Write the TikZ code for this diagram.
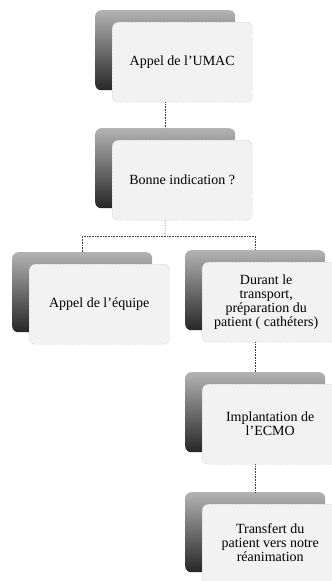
\documentclass[tikz,border=0pt]{standalone}
\usepackage{fontspec}
\setmainfont{Liberation Serif}
\begin{document}
\begin{tikzpicture}[x=1pt,y=-1pt,
  backbox/.style={rectangle, rounded corners=6pt, minimum width=140pt, minimum height=80pt,
    top color=gray!60, bottom color=black!85, draw=none, anchor=north west, inner sep=0pt},
  frontbox/.style={rectangle, rounded corners=6pt, minimum width=140pt, minimum height=80pt,
    fill=gray!10, draw=gray!70, densely dotted, anchor=north west, inner sep=0pt},
  lbl/.style={align=center, font=\fontsize{14}{14}\selectfont, text=black},
  conn/.style={draw=gray!50!black, line width=0.6pt, densely dotted}]
\useasboundingbox (0,0) rectangle (332,581);
\begin{scope}
\clip (0,0) rectangle (332,581);
% box 1
\node[backbox] (b1s) at (95,10) {};
\node[frontbox] (b1) at (112,22) {};
\node[lbl] (t1) at (b1.center) {Appel de l'UMAC};
% box 2
\node[backbox] (b2s) at (95,128) {};
\node[frontbox] (b2) at (112,140) {};
\node[lbl] (t2) at (b2.center) {Bonne indication ?};
% box 3
\node[backbox] (b3s) at (12,252) {};
\node[frontbox] (b3) at (29,264) {};
\node[lbl] (t3) at (b3.center) {Appel de l'équipe};
% box 4
\node[backbox] (b4s) at (185,250) {};
\node[frontbox] (b4) at (202,262) {};
\node[lbl] (t4) at ([xshift=-6pt]b4.center) {Durant le\\transport,\\préparation du\\patient ( cathéters)};
% box 5
\node[backbox] (b5s) at (185,372) {};
\node[frontbox] (b5) at (202,384) {};
\node[lbl] (t5) at ([xshift=-2pt]b5.center) {Implantation de\\l'ECMO};
% box 6
\node[backbox] (b6s) at (185,492) {};
\node[frontbox] (b6) at (202,504) {};
\node[lbl] (t6) at ([xshift=-2pt,yshift=2pt]b6.center) {Transfert du\\patient vers notre\\réanimation};
% connectors
\coordinate (j) at (165,236);
\draw[conn] (b1s.center |- b1.south) -- (b2s.north);
\draw[conn] (b2s.center |- b2.south) -- (j);
\draw[conn] (b3s.north) -- (b3s.north |- j) -- (b4s.north |- j) -- (b4s.north);
\draw[conn] (b4s.center |- b4.south) -- (b5s.north);
\draw[conn] (b5s.center |- b5.south) -- (b6s.north);
\end{scope}
\end{tikzpicture}
\end{document}
